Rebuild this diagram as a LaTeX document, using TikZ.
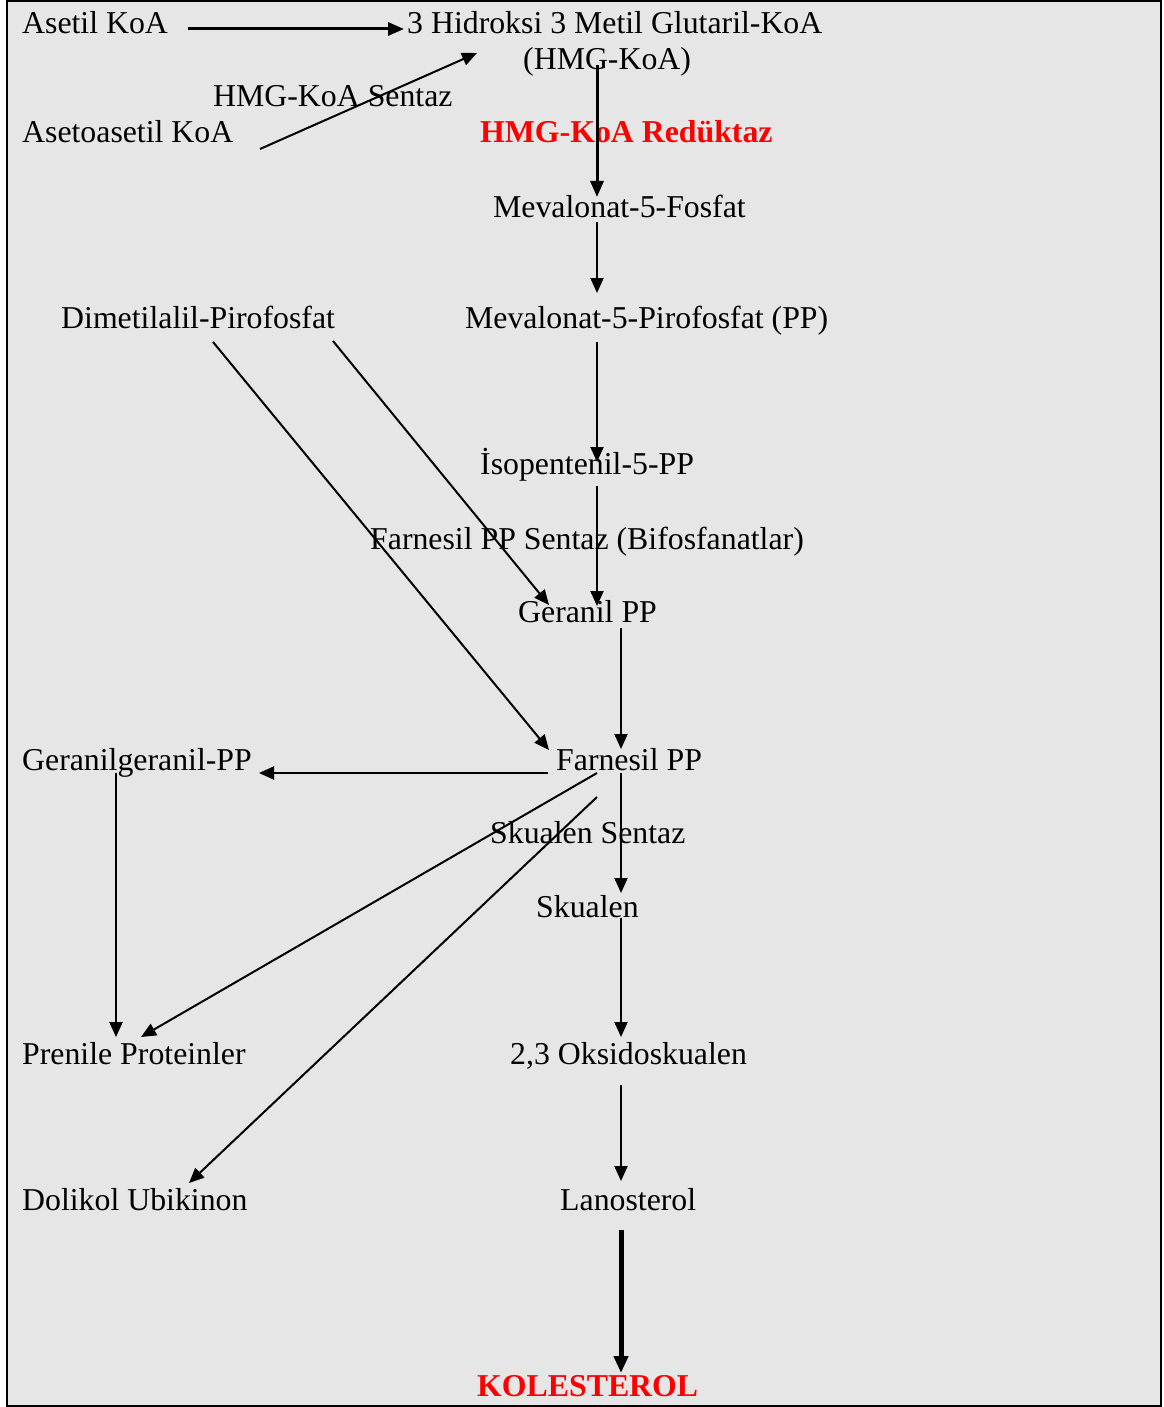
\documentclass[tikz,border=0pt]{standalone}
\usepackage{fontspec}
\setmainfont{Liberation Serif}
\usetikzlibrary{arrows.meta}
\begin{document}
\begin{tikzpicture}[x=1pt,y=-1pt,
  lbl/.style={anchor=base west,inner sep=0pt,font=\fontsize{31.8}{36}\selectfont},
  redlbl/.style={lbl,text=red,font=\fontsize{31.8}{36}\selectfont\bfseries},
  arr/.style={-{Triangle[length=15pt,width=13pt]},line width=2pt},
  arrt/.style={-{Triangle[length=16pt,width=13pt]},line width=3pt},
  arrk/.style={-{Triangle[length=17pt,width=14pt]},line width=5pt}]
\useasboundingbox (0,0) rectangle (1163,1407);
\fill[white] (0,0) rectangle (1163,1407);
\draw[fill={rgb,255:red,230;green,230;blue,230},line width=2pt] (7,1) rectangle (1161,1406);
% texts
\node[lbl] (aset) at (22,34) {Asetil KoA};
\node[lbl] (hmg) at (407,34) {3 Hidroksi 3 Metil Glutaril-KoA};
\node[lbl] (hmg2) at (523,70) {(HMG-KoA)};
\node[lbl] (sentaz) at (213,107) {HMG-KoA Sentaz};
\node[lbl] (asetoa) at (22,143) {Asetoasetil KoA};
\node[redlbl] (redu) at (480,143) {HMG-KoA Redüktaz};
\node[lbl] (mev5f) at (493,218) {Mevalonat-5-Fosfat};
\node[lbl] (dimet) at (61,328) {Dimetilalil-Pirofosfat};
\node[lbl] (mev5pp) at (465,328) {Mevalonat-5-Pirofosfat (PP)};
\node[lbl] (isop) at (480,474) {İsopentenil-5-PP};
\node[lbl] (fppsent) at (370,549) {Farnesil PP Sentaz (Bifosfanatlar)};
\node[lbl] (ger) at (518,622) {Geranil PP};
\node[lbl] (gerger) at (22,770) {Geranilgeranil-PP};
\node[lbl] (fpp) at (556,770) {Farnesil PP};
\node[lbl] (sksent) at (490,843) {Skualen Sentaz};
\node[lbl] (sk) at (536,917) {Skualen};
\node[lbl] (pren) at (22,1064) {Prenile Proteinler};
\node[lbl] (oks) at (510,1064) {2,3 Oksidoskualen};
\node[lbl] (dol) at (22,1210) {Dolikol Ubikinon};
\node[lbl] (lan) at (560,1210) {Lanosterol};
\node[redlbl] (kol) at (477,1396) {KOLESTEROL};
% connector end points
\coordinate (aset-o) at (188,29);   \coordinate (hmg-i) at (404,29);
\coordinate (asetoa-o) at (260,149); \coordinate (hmg-i2) at (477,53);
\coordinate (hmg-o) at (597,65);    \coordinate (mev5f-i) at (597,197);
\coordinate (mev5f-o) at (597,222); \coordinate (mev5pp-i) at (597,293);
\coordinate (mev5pp-o) at (597,342); \coordinate (isop-i) at (597,462);
\coordinate (isop-o) at (597,486);  \coordinate (ger-i) at (597,606);
\coordinate (dimet-o1) at (333,341); \coordinate (ger-i2) at (549,605);
\coordinate (dimet-o2) at (213,342); \coordinate (fpp-i2) at (549,750);
\coordinate (ger-o) at (621,628);   \coordinate (fpp-i) at (621,749);
\coordinate (fpp-o1) at (548,773);  \coordinate (gerger-i) at (259,773);
\coordinate (gerger-o) at (116,773); \coordinate (pren-i) at (116,1037);
\coordinate (fpp-o2) at (597,773);  \coordinate (pren-i2) at (141,1037);
\coordinate (fpp-o3) at (597,797);  \coordinate (dol-i) at (189,1183);
\coordinate (fpp-o4) at (621,773);  \coordinate (sk-i) at (621,893);
\coordinate (sk-o) at (621,918);    \coordinate (oks-i) at (621,1037);
\coordinate (oks-o) at (621,1085);  \coordinate (lan-i) at (621,1181);
\coordinate (lan-o) at (621,1230);  \coordinate (kol-i) at (621,1373);
% connectors
\draw[arrt] (aset-o) -- (hmg-i);
\draw[arr] (asetoa-o) -- (hmg-i2);
\draw[arrt] (hmg-o) -- (mev5f-i);
\draw[arr] (mev5f-o) -- (mev5pp-i);
\draw[arr] (mev5pp-o) -- (isop-i);
\draw[arr] (isop-o) -- (ger-i);
\draw[arr] (dimet-o1) -- (ger-i2);
\draw[arr] (dimet-o2) -- (fpp-i2);
\draw[arr] (ger-o) -- (fpp-i);
\draw[arr] (fpp-o1) -- (gerger-i);
\draw[arr] (gerger-o) -- (pren-i);
\draw[arr] (fpp-o2) -- (pren-i2);
\draw[arr] (fpp-o3) -- (dol-i);
\draw[arr] (fpp-o4) -- (sk-i);
\draw[arr] (sk-o) -- (oks-i);
\draw[arr] (oks-o) -- (lan-i);
\draw[arrk] (lan-o) -- (kol-i);
\end{tikzpicture}
\end{document}
